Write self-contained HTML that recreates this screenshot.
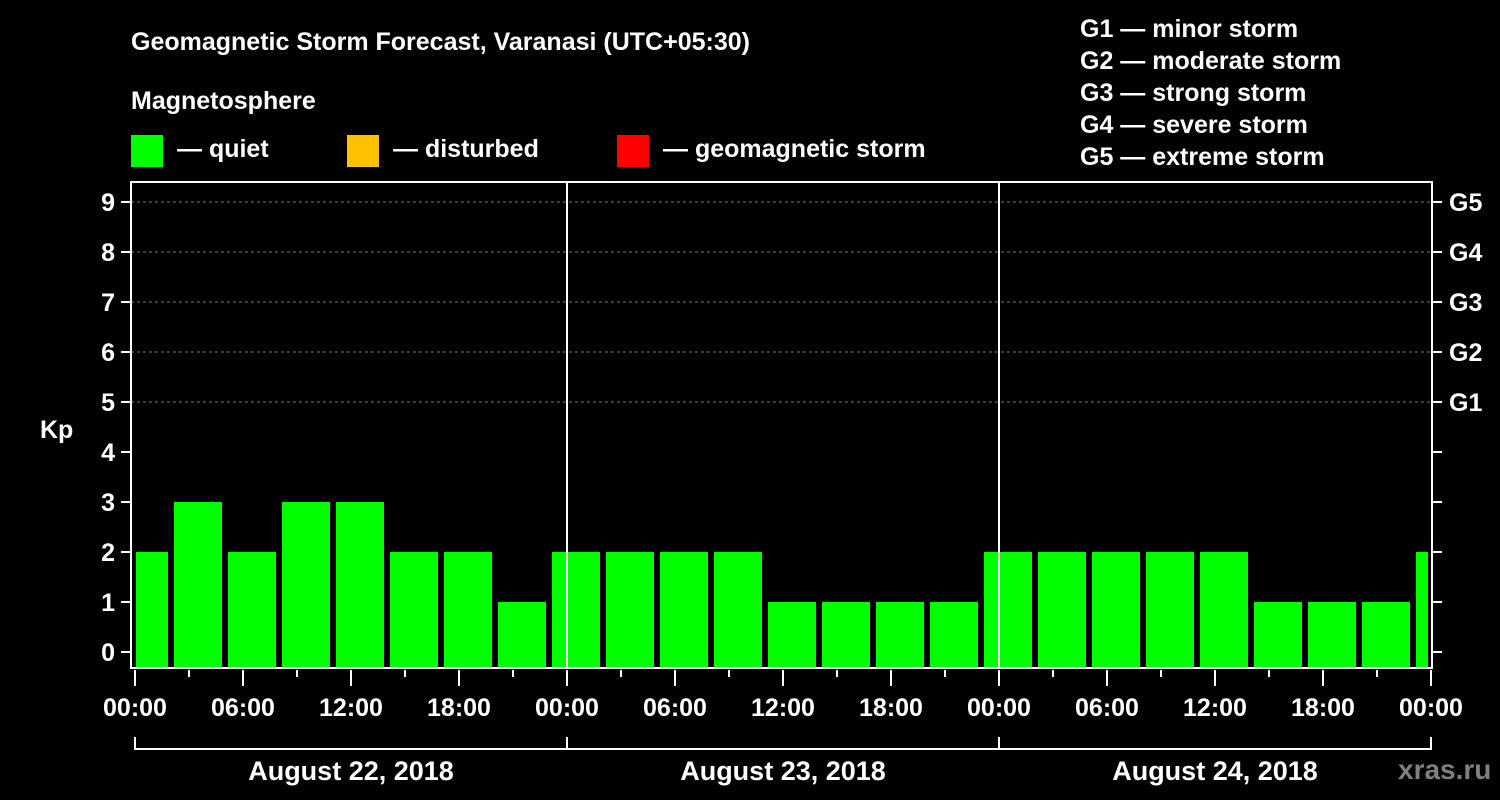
<!DOCTYPE html>
<html><head><meta charset="utf-8"><style>
body{margin:0;background:#000;}
svg{display:block;font-family:"Liberation Sans",sans-serif;font-weight:bold;}
</style></head><body>
<svg id="chart" width="1500" height="800" viewBox="0 0 1500 800">
<rect x="0" y="0" width="1500" height="800" fill="#000"/>
<text x="131" y="50" fill="#fff" font-size="25">Geomagnetic Storm Forecast, Varanasi (UTC+05:30)</text>
<text x="131" y="109" fill="#fff" font-size="25">Magnetosphere</text>
<g><rect x="131" y="135" width="32" height="32" fill="#00ff00"/><text x="177" y="157" fill="#fff" font-size="25">— quiet</text></g>
<g><rect x="347" y="135" width="32" height="32" fill="#ffc000"/><text x="393" y="157" fill="#fff" font-size="25">— disturbed</text></g>
<g><rect x="617" y="135" width="32" height="32" fill="#ff0000"/><text x="663" y="157" fill="#fff" font-size="25">— geomagnetic storm</text></g>
<g fill="#fff" font-size="25">
<text x="1080" y="37">G1 — minor storm</text>
<text x="1080" y="69">G2 — moderate storm</text>
<text x="1080" y="101">G3 — strong storm</text>
<text x="1080" y="133">G4 — severe storm</text>
<text x="1080" y="165">G5 — extreme storm</text>
</g>
<text x="40" y="438" fill="#fff" font-size="25">Kp</text>
<text x="1398" y="779" fill="#808080" font-size="28">xras.ru</text>
<g id="grid"></g>
<g id="bars"></g>
<g id="axes"></g>
</svg>
<script>
const kpValues=[2,3,2,3,3,2,2,1,2,2,2,2,1,1,1,1,2,2,2,2,2,1,1,1,2];
const yTicks=[0,1,2,3,4,5,6,7,8,9];
const gLabels=["G1","G2","G3","G4","G5"];
const gLevels=[5,6,7,8,9];
const dayLabels=["August 22, 2018","August 23, 2018","August 24, 2018"];
const hourTicks=["00:00","06:00","12:00","18:00"];
const NS="http://www.w3.org/2000/svg";
const X0=135,PXH=18,L=131,R=1432,T=182,B=668;
const xs=h=>X0+h*PXH;
const ys=v=>652-v*50;
function mk(tag,attrs,parent,txt){const e=document.createElementNS(NS,tag);for(const k in attrs)e.setAttribute(k,attrs[k]);if(txt!==undefined)e.textContent=txt;document.getElementById(parent).appendChild(e);return e;}
// grid
for(const v of [5,6,7,8,9]){
 const l=mk('line',{x1:L,x2:R,y1:ys(v),y2:ys(v),stroke:'#777','stroke-dasharray':'3,3','stroke-width':1},'grid');
 
 
}
// bars
kpValues.forEach((v,i)=>{
 let s,e;
 if(i===0){s=xs(0)+1;e=xs(2)-3;}
 else{const a=xs(2+3*(i-1));s=a+3;e=Math.min(a+51,xs(72)-3);}
 const r=mk('rect',{x:s,y:ys(v),width:e-s,height:B-1-ys(v),fill:v>=5?'#ff0000':(v>=4?'#ffc000':'#00ff00')},'bars');
 
 
});
// frame
const fr=mk('rect',{x:L,y:T,width:R-L,height:B-T,fill:'none',stroke:'#fff','stroke-width':2},'axes');


for(let d=1;d<3;d++){
 const l=mk('line',{x1:xs(24*d),x2:xs(24*d),y1:T,y2:B,stroke:'#fff','stroke-width':2},'axes');
 
 
}
yTicks.forEach(v=>{
 mk('line',{x1:L-10,x2:L,y1:ys(v),y2:ys(v),stroke:'#fff','stroke-width':2},'axes');
 mk('line',{x1:R,x2:R+10,y1:ys(v),y2:ys(v),stroke:'#fff','stroke-width':2},'axes');
 const t=mk('text',{x:L-16,y:ys(v)+9,fill:'#fff','font-size':25,'text-anchor':'end'},'axes',String(v));
 
 
});
gLabels.forEach((g,i)=>{
 const t=mk('text',{x:1449,y:ys(gLevels[i])+9,fill:'#fff','font-size':25},'axes',g);
 
 
});
for(let h=0;h<=72;h+=3){
 const major=h%6===0;
 mk('line',{x1:xs(h),x2:xs(h),y1:B+2,y2:B+(major?18:9),stroke:'#fff','stroke-width':2},'axes');
 if(major){
  const t=mk('text',{x:xs(h),y:716,fill:'#fff','font-size':25,'text-anchor':'middle'},'axes',hourTicks[(h/6)%4]);
  
  
 }
}
mk('line',{x1:xs(0),x2:xs(72),y1:749,y2:749,stroke:'#fff','stroke-width':2},'axes');
for(let d=0;d<=3;d++) mk('line',{x1:xs(24*d),x2:xs(24*d),y1:737,y2:750,stroke:'#fff','stroke-width':2},'axes');
dayLabels.forEach((lab,d)=>{
 const t=mk('text',{x:xs(24*d+12),y:780,fill:'#fff','font-size':27,'text-anchor':'middle'},'axes',lab);
 
 
});
</script>
</body></html>
